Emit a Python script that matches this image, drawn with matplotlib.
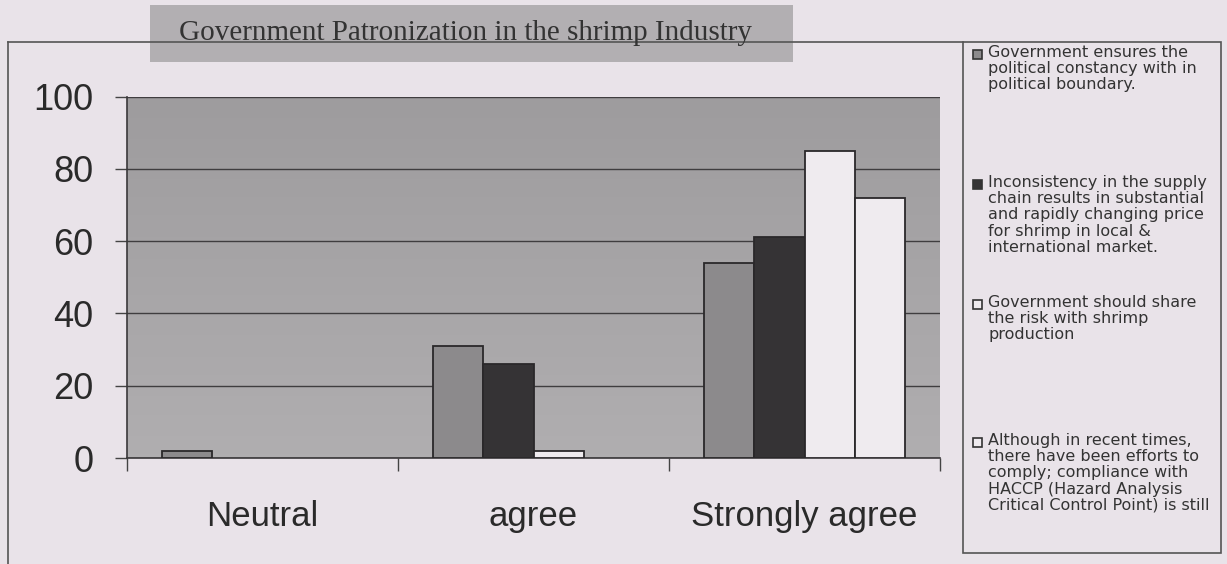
import matplotlib
matplotlib.use("Agg")
import matplotlib.pyplot as plt
import numpy as np
from matplotlib.patches import Rectangle
from matplotlib.lines import Line2D

W, H = 1227, 564

categories = ["Neutral", "agree", "Strongly agree"]
series_1 = [2, 31, 54]   # Government ensures the political constancy
series_2 = [0, 26, 61]   # Inconsistency in the supply chain
series_3 = [0, 2, 85]    # Government should share the risk
series_4 = [0, 0, 72]    # HACCP compliance

legend_labels = [
    "Government ensures the\npolitical constancy with in\npolitical boundary.",
    "Inconsistency in the supply\nchain results in substantial\nand rapidly changing price\nfor shrimp in local &\ninternational market.",
    "Government should share\nthe risk with shrimp\nproduction",
    "Although in recent times,\nthere have been efforts to\ncomply; compliance with\nHACCP (Hazard Analysis\nCritical Control Point) is still",
]
colors = ["#8c8a8c", "#353335", "#efebef", "#efebef"]
bg = "#e9e3e9"


def fx(x):
    return x / W


def fy(y):
    return 1 - y / H


fig = plt.figure(figsize=(W / 100, H / 100), dpi=100, facecolor=bg)
ax = fig.add_axes([fx(127), fy(458), (940 - 127) / W, (458 - 96.5) / H])

# plot area background, slightly lighter towards the bottom
grad = np.linspace(0, 1, 100).reshape(-1, 1)
ax.imshow(grad, extent=(-0.5, 2.5, 0, 100), aspect="auto", origin="upper",
          cmap=matplotlib.colors.LinearSegmentedColormap.from_list("g", ["#9e9c9e", "#b0aeb0"]),
          zorder=0)

x = np.arange(len(categories))
bw = 0.185
for i, (vals, c) in enumerate(zip([series_1, series_2, series_3, series_4], colors)):
    vals = np.array(vals, dtype=float)
    keep = vals > 0  # empty bars leave no outline in the original
    ax.bar(x[keep] - 2 * bw + i * bw, vals[keep], width=bw, align="edge", color=c,
           edgecolor="#2a282a", linewidth=1.3, zorder=3)

ax.set_xlim(-0.5, 2.5)
ax.set_ylim(0, 100)
ax.set_yticks([0, 20, 40, 60, 80, 100])
ax.yaxis.grid(True, color="#3f3d3f", linewidth=1.0, zorder=1)
ax.set_axisbelow(True)
ax.tick_params(axis="y", labelsize=26, length=9, width=1, color="#444",
               pad=15, labelcolor="#2a2a2a")
ax.set_xticks(x)
ax.set_xticklabels(categories)
ax.set_xticks([-0.5, 0.5, 1.5, 2.5], minor=True)
ax.tick_params(axis="x", which="major", length=0, labelsize=25, pad=30,
               labelcolor="#2a2a2a")
ax.tick_params(axis="x", which="minor", length=9, width=1, color="#444")
for lab in ax.get_xticklabels() + ax.get_yticklabels():
    lab.set_family("Liberation Sans")
for s in ["top", "right"]:
    ax.spines[s].set_visible(False)
for s in ["left", "bottom"]:
    ax.spines[s].set_color("#3a383a")
    ax.spines[s].set_linewidth(1.2)

# outer chart frame
fig.add_artist(Line2D([fx(8), fx(8)], [fy(42), fy(564)], color="#555", lw=1.2))
fig.add_artist(Line2D([fx(8), fx(963)], [fy(42), fy(42)], color="#555", lw=1.2))

# title box
fig.add_artist(Rectangle((fx(150), fy(62)), (793 - 150) / W, (62 - 5) / H,
                         facecolor="#b2afb2", edgecolor="none"))
fig.text(fx(466), fy(33), "Government Patronization in the shrimp Industry",
         ha="center", va="center", family="Liberation Serif", size=21, color="#333")

# legend
fig.add_artist(Rectangle((fx(963), fy(553)), (1221 - 963) / W, (553 - 42) / H,
                         facecolor=bg, edgecolor="#555", lw=1.2))
item_y = [54, 184, 304, 442]
for lab, c, yc in zip(legend_labels, colors, item_y):
    fig.add_artist(Rectangle((fx(973), fy(yc + 4.5)), 9 / W, 9 / H,
                             facecolor=c, edgecolor="#333", lw=1.2))
    fig.text(fx(988), fy(yc - 9), lab, ha="left", va="top", family="DejaVu Sans",
             size=11.5, linespacing=1.1, color="#333")

fig.savefig("out.png", dpi=100, facecolor=bg)
